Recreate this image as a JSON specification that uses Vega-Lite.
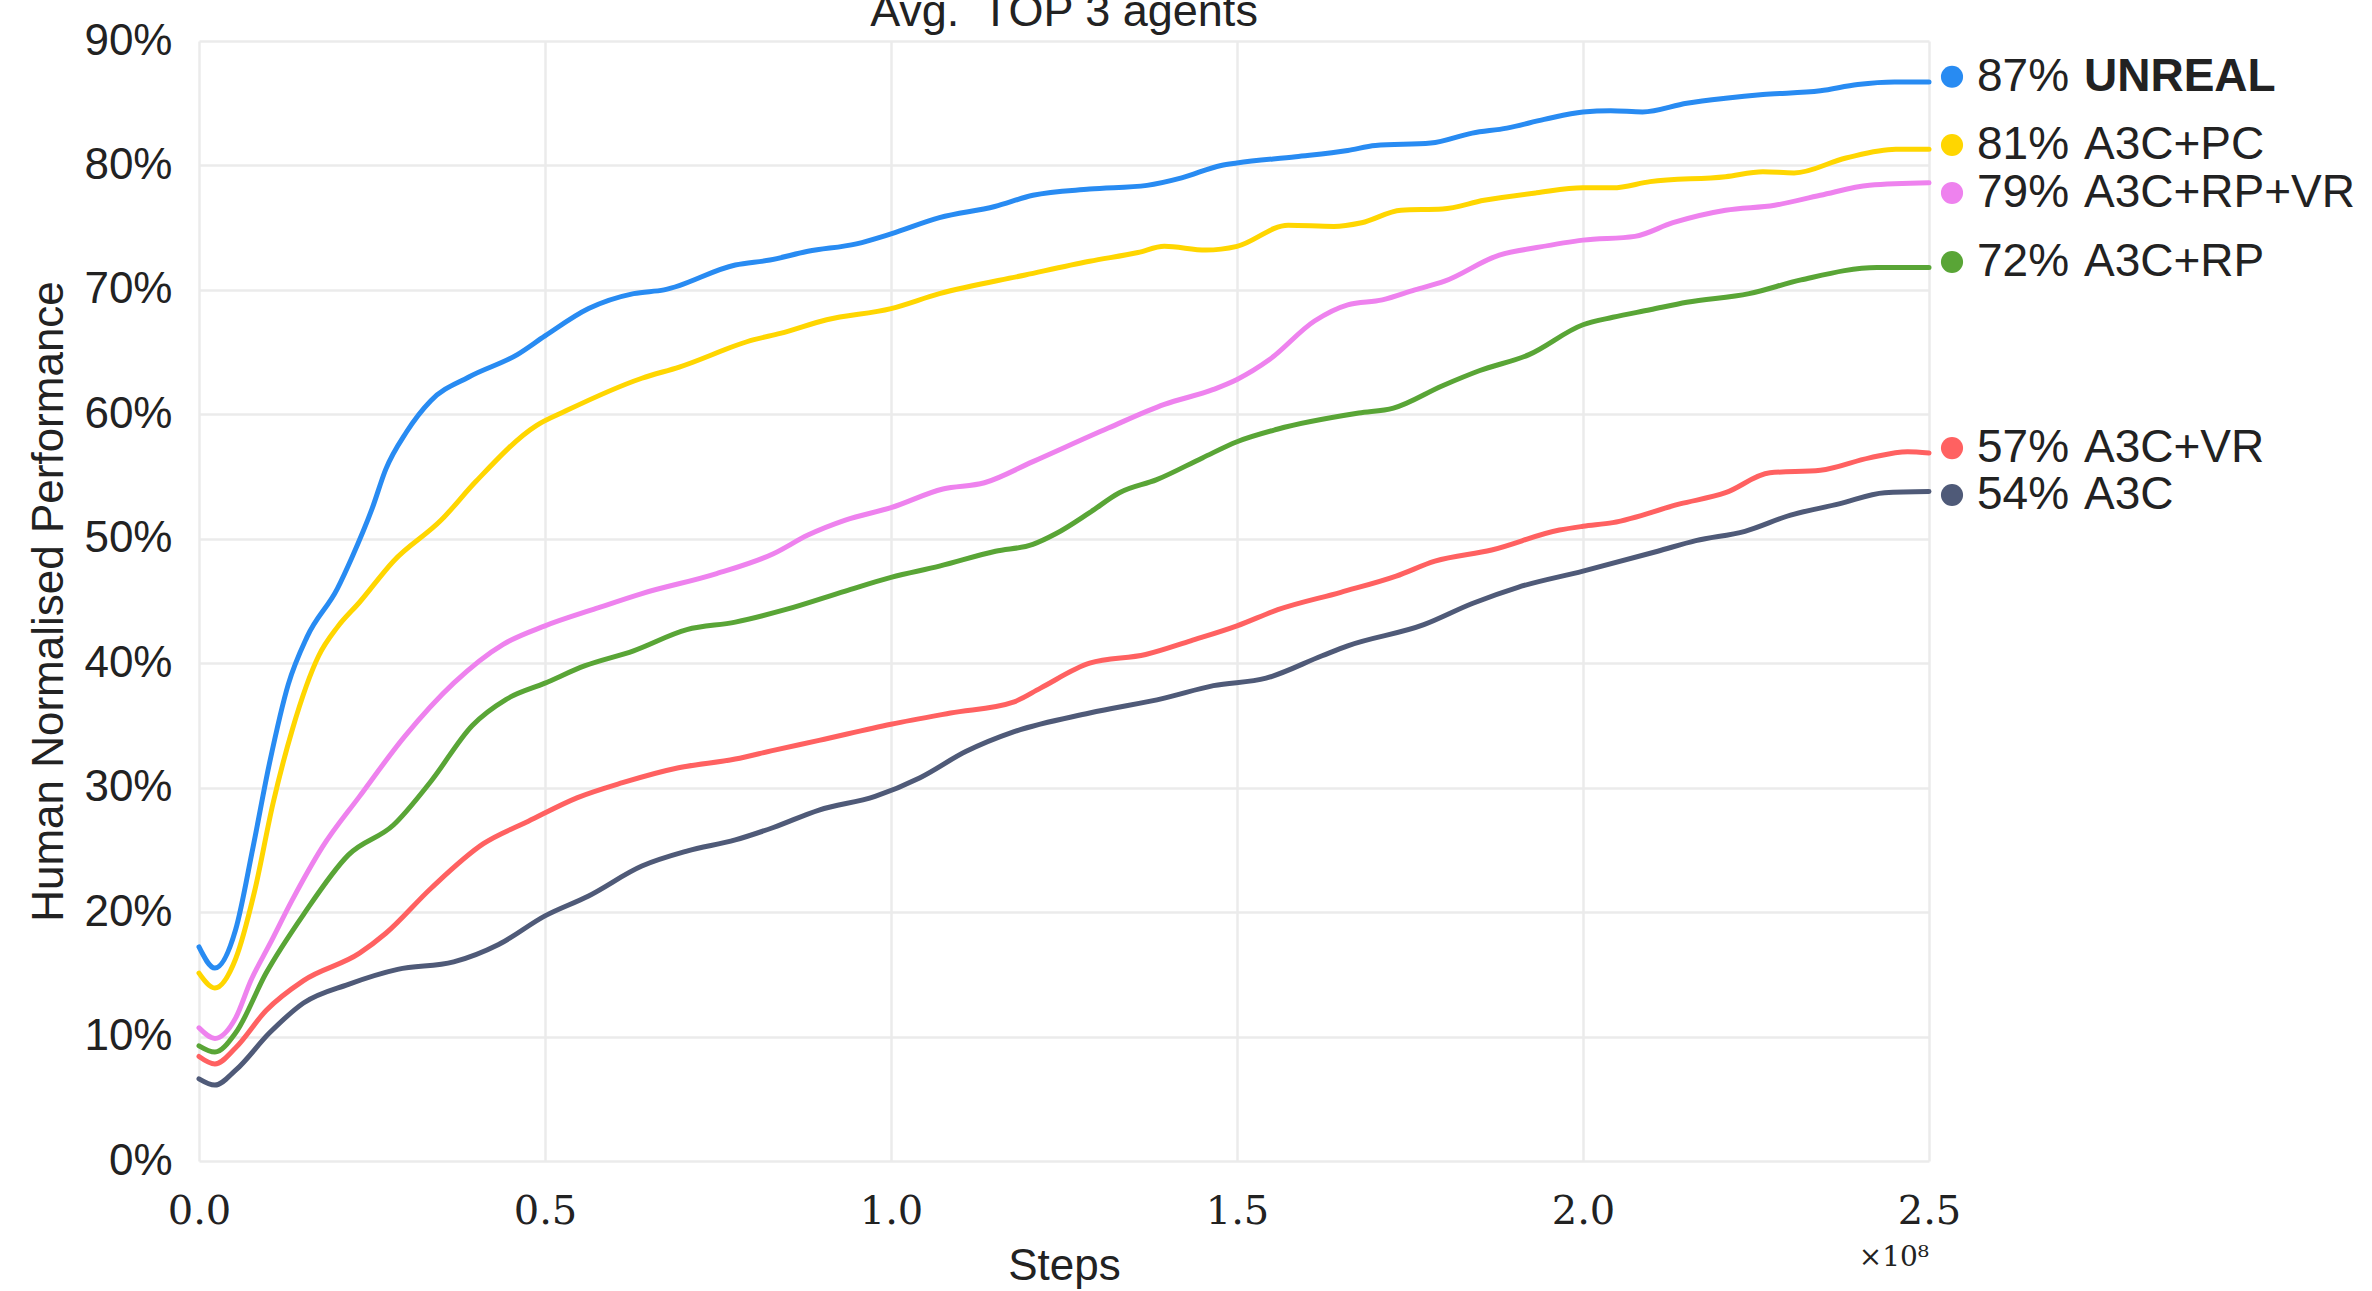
{
  "$schema": "https://vega.github.io/schema/vega-lite/v6.json",
  "autosize": "none",
  "width": 1730,
  "height": 1120,
  "padding": {"left": 199, "top": 41, "right": 443, "bottom": 130},
  "background": "white",
  "config": {
    "view": {"stroke": null},
    "axis": {"grid": true, "gridColor": "#ebebeb", "gridWidth": 2.5, "domain": false, "ticks": false, "labelColor": "#222222", "titleColor": "#222222", "titleFontWeight": "normal"}
  },
  "datasets": {
    "curves": [
      {"a":"UNREAL","s":0,"v":17.2},{"a":"UNREAL","s":0.023,"v":15.5},{"a":"UNREAL","s":0.053,"v":18.6},{"a":"UNREAL","s":0.078,"v":25.2},{"a":"UNREAL","s":0.102,"v":32},{"a":"UNREAL","s":0.129,"v":38.3},{"a":"UNREAL","s":0.156,"v":42.1},{"a":"UNREAL","s":0.2,"v":46},{"a":"UNREAL","s":0.221,"v":48.5},{"a":"UNREAL","s":0.25,"v":52.4},{"a":"UNREAL","s":0.27,"v":55.6},{"a":"UNREAL","s":0.3,"v":58.6},{"a":"UNREAL","s":0.335,"v":61.1},{"a":"UNREAL","s":0.39,"v":63},{"a":"UNREAL","s":0.46,"v":64.8},{"a":"UNREAL","s":0.5,"v":66.3},{"a":"UNREAL","s":0.563,"v":68.5},{"a":"UNREAL","s":0.628,"v":69.7},{"a":"UNREAL","s":0.672,"v":70},{"a":"UNREAL","s":0.775,"v":72},{"a":"UNREAL","s":0.825,"v":72.4},{"a":"UNREAL","s":0.88,"v":73.1},{"a":"UNREAL","s":0.95,"v":73.7},{"a":"UNREAL","s":1.0,"v":74.5},{"a":"UNREAL","s":1.07,"v":75.8},{"a":"UNREAL","s":1.15,"v":76.7},{"a":"UNREAL","s":1.205,"v":77.6},{"a":"UNREAL","s":1.287,"v":78.1},{"a":"UNREAL","s":1.37,"v":78.4},{"a":"UNREAL","s":1.42,"v":79},{"a":"UNREAL","s":1.477,"v":80},{"a":"UNREAL","s":1.5,"v":80.2},{"a":"UNREAL","s":1.585,"v":80.7},{"a":"UNREAL","s":1.66,"v":81.2},{"a":"UNREAL","s":1.7,"v":81.6},{"a":"UNREAL","s":1.78,"v":81.8},{"a":"UNREAL","s":1.84,"v":82.6},{"a":"UNREAL","s":1.89,"v":83},{"a":"UNREAL","s":1.944,"v":83.7},{"a":"UNREAL","s":2.0,"v":84.3},{"a":"UNREAL","s":2.04,"v":84.4},{"a":"UNREAL","s":2.086,"v":84.3},{"a":"UNREAL","s":2.15,"v":85},{"a":"UNREAL","s":2.206,"v":85.4},{"a":"UNREAL","s":2.26,"v":85.7},{"a":"UNREAL","s":2.343,"v":86},{"a":"UNREAL","s":2.397,"v":86.5},{"a":"UNREAL","s":2.45,"v":86.7},{"a":"UNREAL","s":2.5,"v":86.7},

      {"a":"A3C+PC","s":0,"v":15.1},{"a":"A3C+PC","s":0.023,"v":13.9},{"a":"A3C+PC","s":0.053,"v":16.25},{"a":"A3C+PC","s":0.08,"v":21.6},{"a":"A3C+PC","s":0.107,"v":28.75},{"a":"A3C+PC","s":0.135,"v":34.7},{"a":"A3C+PC","s":0.173,"v":40.6},{"a":"A3C+PC","s":0.2,"v":42.9},{"a":"A3C+PC","s":0.232,"v":44.9},{"a":"A3C+PC","s":0.281,"v":48.2},{"a":"A3C+PC","s":0.35,"v":51.5},{"a":"A3C+PC","s":0.4,"v":54.6},{"a":"A3C+PC","s":0.4875,"v":59.1},{"a":"A3C+PC","s":0.531,"v":60.3},{"a":"A3C+PC","s":0.64,"v":62.9},{"a":"A3C+PC","s":0.694,"v":63.8},{"a":"A3C+PC","s":0.802,"v":66},{"a":"A3C+PC","s":0.84,"v":66.5},{"a":"A3C+PC","s":0.907,"v":67.6},{"a":"A3C+PC","s":1.0,"v":68.5},{"a":"A3C+PC","s":1.07,"v":69.7},{"a":"A3C+PC","s":1.194,"v":71.2},{"a":"A3C+PC","s":1.287,"v":72.3},{"a":"A3C+PC","s":1.357,"v":73},{"a":"A3C+PC","s":1.395,"v":73.5},{"a":"A3C+PC","s":1.455,"v":73.2},{"a":"A3C+PC","s":1.5,"v":73.5},{"a":"A3C+PC","s":1.574,"v":75.2},{"a":"A3C+PC","s":1.64,"v":75.1},{"a":"A3C+PC","s":1.68,"v":75.4},{"a":"A3C+PC","s":1.737,"v":76.4},{"a":"A3C+PC","s":1.797,"v":76.5},{"a":"A3C+PC","s":1.857,"v":77.2},{"a":"A3C+PC","s":1.933,"v":77.8},{"a":"A3C+PC","s":2.0,"v":78.2},{"a":"A3C+PC","s":2.043,"v":78.2},{"a":"A3C+PC","s":2.097,"v":78.7},{"a":"A3C+PC","s":2.206,"v":79.1},{"a":"A3C+PC","s":2.26,"v":79.5},{"a":"A3C+PC","s":2.305,"v":79.4},{"a":"A3C+PC","s":2.38,"v":80.6},{"a":"A3C+PC","s":2.452,"v":81.3},{"a":"A3C+PC","s":2.5,"v":81.3},

      {"a":"A3C+RP+VR","s":0,"v":10.7},{"a":"A3C+RP+VR","s":0.023,"v":9.85},{"a":"A3C+RP+VR","s":0.053,"v":11.5},{"a":"A3C+RP+VR","s":0.075,"v":14.5},{"a":"A3C+RP+VR","s":0.102,"v":17.4},{"a":"A3C+RP+VR","s":0.135,"v":21},{"a":"A3C+RP+VR","s":0.178,"v":25.2},{"a":"A3C+RP+VR","s":0.232,"v":29.3},{"a":"A3C+RP+VR","s":0.297,"v":34.1},{"a":"A3C+RP+VR","s":0.368,"v":38.4},{"a":"A3C+RP+VR","s":0.439,"v":41.5},{"a":"A3C+RP+VR","s":0.5,"v":43},{"a":"A3C+RP+VR","s":0.574,"v":44.4},{"a":"A3C+RP+VR","s":0.64,"v":45.6},{"a":"A3C+RP+VR","s":0.748,"v":47.2},{"a":"A3C+RP+VR","s":0.83,"v":48.8},{"a":"A3C+RP+VR","s":0.88,"v":50.3},{"a":"A3C+RP+VR","s":0.934,"v":51.5},{"a":"A3C+RP+VR","s":1.0,"v":52.5},{"a":"A3C+RP+VR","s":1.075,"v":54},{"a":"A3C+RP+VR","s":1.135,"v":54.5},{"a":"A3C+RP+VR","s":1.205,"v":56.2},{"a":"A3C+RP+VR","s":1.314,"v":58.9},{"a":"A3C+RP+VR","s":1.395,"v":60.8},{"a":"A3C+RP+VR","s":1.466,"v":62},{"a":"A3C+RP+VR","s":1.5,"v":62.8},{"a":"A3C+RP+VR","s":1.547,"v":64.4},{"a":"A3C+RP+VR","s":1.612,"v":67.5},{"a":"A3C+RP+VR","s":1.66,"v":68.8},{"a":"A3C+RP+VR","s":1.71,"v":69.2},{"a":"A3C+RP+VR","s":1.757,"v":70},{"a":"A3C+RP+VR","s":1.8,"v":70.7},{"a":"A3C+RP+VR","s":1.879,"v":72.8},{"a":"A3C+RP+VR","s":1.933,"v":73.4},{"a":"A3C+RP+VR","s":2.0,"v":74},{"a":"A3C+RP+VR","s":2.075,"v":74.3},{"a":"A3C+RP+VR","s":2.13,"v":75.4},{"a":"A3C+RP+VR","s":2.206,"v":76.4},{"a":"A3C+RP+VR","s":2.277,"v":76.8},{"a":"A3C+RP+VR","s":2.343,"v":77.6},{"a":"A3C+RP+VR","s":2.414,"v":78.4},{"a":"A3C+RP+VR","s":2.5,"v":78.6},

      {"a":"A3C+RP","s":0,"v":9.25},{"a":"A3C+RP","s":0.023,"v":8.75},{"a":"A3C+RP","s":0.053,"v":10.3},{"a":"A3C+RP","s":0.097,"v":15.1},{"a":"A3C+RP","s":0.151,"v":19.8},{"a":"A3C+RP","s":0.216,"v":24.6},{"a":"A3C+RP","s":0.281,"v":27},{"a":"A3C+RP","s":0.335,"v":30.5},{"a":"A3C+RP","s":0.395,"v":35},{"a":"A3C+RP","s":0.444,"v":37.1},{"a":"A3C+RP","s":0.5,"v":38.4},{"a":"A3C+RP","s":0.558,"v":39.8},{"a":"A3C+RP","s":0.628,"v":41},{"a":"A3C+RP","s":0.705,"v":42.7},{"a":"A3C+RP","s":0.775,"v":43.3},{"a":"A3C+RP","s":0.847,"v":44.3},{"a":"A3C+RP","s":0.934,"v":45.8},{"a":"A3C+RP","s":1.0,"v":46.9},{"a":"A3C+RP","s":1.07,"v":47.8},{"a":"A3C+RP","s":1.151,"v":49},{"a":"A3C+RP","s":1.205,"v":49.55},{"a":"A3C+RP","s":1.238,"v":50.4},{"a":"A3C+RP","s":1.287,"v":52.1},{"a":"A3C+RP","s":1.33,"v":53.7},{"a":"A3C+RP","s":1.384,"v":54.75},{"a":"A3C+RP","s":1.45,"v":56.5},{"a":"A3C+RP","s":1.5,"v":57.8},{"a":"A3C+RP","s":1.558,"v":58.8},{"a":"A3C+RP","s":1.676,"v":60.1},{"a":"A3C+RP","s":1.726,"v":60.5},{"a":"A3C+RP","s":1.797,"v":62.3},{"a":"A3C+RP","s":1.85,"v":63.5},{"a":"A3C+RP","s":1.922,"v":64.8},{"a":"A3C+RP","s":2.0,"v":67.2},{"a":"A3C+RP","s":2.043,"v":67.8},{"a":"A3C+RP","s":2.097,"v":68.4},{"a":"A3C+RP","s":2.15,"v":69},{"a":"A3C+RP","s":2.24,"v":69.7},{"a":"A3C+RP","s":2.315,"v":70.8},{"a":"A3C+RP","s":2.425,"v":71.8},{"a":"A3C+RP","s":2.5,"v":71.8},

      {"a":"A3C+VR","s":0,"v":8.4},{"a":"A3C+VR","s":0.023,"v":7.8},{"a":"A3C+VR","s":0.053,"v":9.1},{"a":"A3C+VR","s":0.097,"v":12.1},{"a":"A3C+VR","s":0.151,"v":14.5},{"a":"A3C+VR","s":0.232,"v":16.7},{"a":"A3C+VR","s":0.27,"v":18.3},{"a":"A3C+VR","s":0.335,"v":21.9},{"a":"A3C+VR","s":0.411,"v":25.5},{"a":"A3C+VR","s":0.476,"v":27.3},{"a":"A3C+VR","s":0.547,"v":29.2},{"a":"A3C+VR","s":0.612,"v":30.4},{"a":"A3C+VR","s":0.693,"v":31.6},{"a":"A3C+VR","s":0.775,"v":32.3},{"a":"A3C+VR","s":0.83,"v":33},{"a":"A3C+VR","s":0.896,"v":33.8},{"a":"A3C+VR","s":1.0,"v":35.1},{"a":"A3C+VR","s":1.086,"v":36},{"a":"A3C+VR","s":1.178,"v":36.9},{"a":"A3C+VR","s":1.216,"v":38},{"a":"A3C+VR","s":1.287,"v":40},{"a":"A3C+VR","s":1.368,"v":40.7},{"a":"A3C+VR","s":1.433,"v":41.8},{"a":"A3C+VR","s":1.5,"v":43},{"a":"A3C+VR","s":1.559,"v":44.3},{"a":"A3C+VR","s":1.65,"v":45.7},{"a":"A3C+VR","s":1.73,"v":47},{"a":"A3C+VR","s":1.786,"v":48.2},{"a":"A3C+VR","s":1.868,"v":49.1},{"a":"A3C+VR","s":1.966,"v":50.7},{"a":"A3C+VR","s":2.0,"v":51},{"a":"A3C+VR","s":2.043,"v":51.3},{"a":"A3C+VR","s":2.14,"v":52.8},{"a":"A3C+VR","s":2.206,"v":53.7},{"a":"A3C+VR","s":2.27,"v":55.3},{"a":"A3C+VR","s":2.343,"v":55.5},{"a":"A3C+VR","s":2.414,"v":56.5},{"a":"A3C+VR","s":2.469,"v":57},{"a":"A3C+VR","s":2.5,"v":56.9},

      {"a":"A3C","s":0,"v":6.6},{"a":"A3C","s":0.023,"v":6.1},{"a":"A3C","s":0.053,"v":7.3},{"a":"A3C","s":0.102,"v":10.3},{"a":"A3C","s":0.151,"v":12.7},{"a":"A3C","s":0.216,"v":14.2},{"a":"A3C","s":0.287,"v":15.4},{"a":"A3C","s":0.368,"v":16},{"a":"A3C","s":0.433,"v":17.4},{"a":"A3C","s":0.5,"v":19.7},{"a":"A3C","s":0.563,"v":21.3},{"a":"A3C","s":0.64,"v":23.7},{"a":"A3C","s":0.705,"v":24.9},{"a":"A3C","s":0.775,"v":25.8},{"a":"A3C","s":0.83,"v":26.8},{"a":"A3C","s":0.896,"v":28.2},{"a":"A3C","s":0.977,"v":29.3},{"a":"A3C","s":1.042,"v":30.8},{"a":"A3C","s":1.108,"v":32.9},{"a":"A3C","s":1.178,"v":34.5},{"a":"A3C","s":1.287,"v":36},{"a":"A3C","s":1.395,"v":37.2},{"a":"A3C","s":1.466,"v":38.2},{"a":"A3C","s":1.542,"v":38.8},{"a":"A3C","s":1.623,"v":40.6},{"a":"A3C","s":1.66,"v":41.4},{"a":"A3C","s":1.77,"v":43.1},{"a":"A3C","s":1.84,"v":44.8},{"a":"A3C","s":1.906,"v":46.1},{"a":"A3C","s":2.0,"v":47.4},{"a":"A3C","s":2.108,"v":49},{"a":"A3C","s":2.163,"v":49.85},{"a":"A3C","s":2.234,"v":50.6},{"a":"A3C","s":2.3,"v":51.9},{"a":"A3C","s":2.37,"v":52.8},{"a":"A3C","s":2.436,"v":53.7},{"a":"A3C","s":2.5,"v":53.8}
    ],
    "labels": [
      {"a":"UNREAL","pct":"87%","ly":87.13},
      {"a":"A3C+PC","pct":"81%","ly":81.64},
      {"a":"A3C+RP+VR","pct":"79%","ly":77.79},
      {"a":"A3C+RP","pct":"72%","ly":72.24},
      {"a":"A3C+VR","pct":"57%","ly":57.29},
      {"a":"A3C","pct":"54%","ly":53.52}
    ]
  },
  "layer": [
    {
      "data": {"name": "curves"},
      "mark": {"type": "line", "strokeWidth": 5, "interpolate": "monotone", "strokeCap": "round"},
      "encoding": {
        "x": {"field": "s", "type": "quantitative", "scale": {"domain": [0, 2.5], "nice": false, "zero": false},
              "axis": {"values": [0, 0.5, 1.0, 1.5, 2.0, 2.5], "format": ".1f", "title": "Steps", "labelFont": "DejaVu Serif", "labelFontSize": 40, "labelPadding": 30, "titleFont": "Liberation Sans", "titleFontSize": 44, "titlePadding": 13, "labelFlush": false}},
        "y": {"field": "v", "type": "quantitative", "scale": {"domain": [0, 90], "nice": false},
              "axis": {"values": [0, 10, 20, 30, 40, 50, 60, 70, 80, 90], "labelExpr": "datum.value + '%'", "title": "Human Normalised Performance", "labelFont": "Liberation Sans", "labelFontSize": 44, "labelPadding": 27, "titleFont": "Liberation Sans", "titleFontSize": 44, "titlePadding": 12, "labelFlush": false}},
        "color": {"field": "a", "type": "nominal", "legend": null,
                  "scale": {"domain": ["UNREAL", "A3C+PC", "A3C+RP+VR", "A3C+RP", "A3C+VR", "A3C"],
                            "range": ["#288bf2", "#ffd600", "#ee82ee", "#59a536", "#ff6161", "#4f5a78"]}},
        "detail": {"field": "a"}
      }
    },
    {
      "data": {"values": [{"t": "Avg.\u2002TOP 3 agents"}]},
      "mark": {"type": "text", "align": "center", "baseline": "alphabetic", "dy": -15, "font": "Liberation Sans", "fontSize": 45, "color": "#222222"},
      "encoding": {
        "x": {"datum": 1.25, "type": "quantitative"},
        "y": {"datum": 90, "type": "quantitative"},
        "text": {"field": "t"}
      }
    },
    {
      "data": {"name": "labels"},
      "mark": {"type": "point", "filled": true, "opacity": 1, "size": 490, "xOffset": 23},
      "encoding": {
        "x": {"datum": 2.5, "type": "quantitative"},
        "y": {"field": "ly", "type": "quantitative"},
        "color": {"field": "a", "type": "nominal", "legend": null}
      }
    },
    {
      "data": {"name": "labels"},
      "mark": {"type": "text", "align": "left", "baseline": "middle", "dx": 48, "font": "Liberation Sans", "fontSize": 46, "color": "#222222"},
      "encoding": {
        "x": {"datum": 2.5, "type": "quantitative"},
        "y": {"field": "ly", "type": "quantitative"},
        "text": {"field": "pct"}
      }
    },
    {
      "data": {"name": "labels"},
      "transform": [{"filter": "datum.a !== 'UNREAL'"}],
      "mark": {"type": "text", "align": "left", "baseline": "middle", "dx": 155, "font": "Liberation Sans", "fontSize": 46, "color": "#222222"},
      "encoding": {
        "x": {"datum": 2.5, "type": "quantitative"},
        "y": {"field": "ly", "type": "quantitative"},
        "text": {"field": "a"}
      }
    },
    {
      "data": {"name": "labels"},
      "transform": [{"filter": "datum.a === 'UNREAL'"}],
      "mark": {"type": "text", "align": "left", "baseline": "middle", "dx": 155, "font": "Liberation Sans", "fontSize": 46, "fontWeight": "bold", "color": "#222222"},
      "encoding": {
        "x": {"datum": 2.5, "type": "quantitative"},
        "y": {"field": "ly", "type": "quantitative"},
        "text": {"field": "a"}
      }
    },
    {
      "data": {"values": [{"t": "\u00d710\u2078"}]},
      "mark": {"type": "text", "align": "right", "baseline": "alphabetic", "dy": 105, "font": "DejaVu Serif", "fontSize": 28, "color": "#222222"},
      "encoding": {
        "x": {"datum": 2.5, "type": "quantitative"},
        "y": {"datum": 0, "type": "quantitative"},
        "text": {"field": "t"}
      }
    }
  ]
}
